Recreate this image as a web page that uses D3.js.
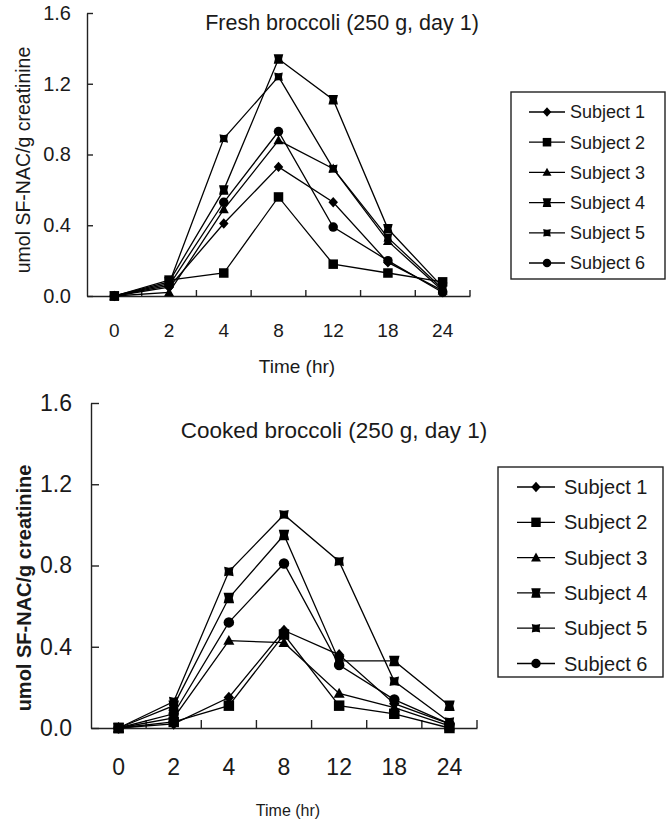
<!DOCTYPE html>
<html>
<head>
<meta charset="utf-8">
<script src="https://cdn.jsdelivr.net/npm/d3@7"></script>
<style>
  body { margin: 0; background: #fff; }
  text { font-family: "Liberation Sans", Arial, sans-serif; fill: #1a1a1a; }
</style>
</head>
<body>
<div class="chart"></div>
<script>
const times = ["0", "2", "4", "8", "12", "18", "24"];
const subjects = ["Subject 1", "Subject 2", "Subject 3", "Subject 4", "Subject 5", "Subject 6"];
const yTicks = [0, 0.4, 0.8, 1.2, 1.6];

// fresh broccoli, umol SF-NAC/g creatinine
const fresh1 = [0.00, 0.05, 0.41, 0.73, 0.53, 0.19, 0.03];
const fresh2 = [0.00, 0.09, 0.13, 0.56, 0.18, 0.13, 0.08];
const fresh3 = [0.00, 0.02, 0.49, 0.88, 0.72, 0.31, 0.03];
const fresh4 = [0.00, 0.08, 0.60, 1.34, 1.11, 0.38, 0.05];
const fresh5 = [0.00, 0.07, 0.89, 1.24, 0.72, 0.33, 0.04];
const fresh6 = [0.00, 0.06, 0.53, 0.93, 0.39, 0.20, 0.02];

// cooked broccoli
const cooked1 = [0.00, 0.02, 0.15, 0.48, 0.36, 0.12, 0.02];
const cooked2 = [0.00, 0.03, 0.11, 0.46, 0.11, 0.07, 0.00];
const cooked3 = [0.00, 0.05, 0.43, 0.42, 0.17, 0.10, 0.01];
const cooked4 = [0.00, 0.11, 0.64, 0.95, 0.33, 0.33, 0.11];
const cooked5 = [0.00, 0.13, 0.77, 1.05, 0.82, 0.23, 0.03];
const cooked6 = [0.00, 0.07, 0.52, 0.81, 0.31, 0.14, 0.02];

const freshSeries = [fresh1, fresh2, fresh3, fresh4, fresh5, fresh6];
const cookedSeries = [cooked1, cooked2, cooked3, cooked4, cooked5, cooked6];

const svg = d3.select(".chart").append("svg")
    .attr("width", 670)
    .attr("height", 822);

// marker shapes: diamond, square, triangle, notched square, pinched square, circle
function marker(i, s) {
    const r = s / 2;
    switch (i) {
        case 0: return `M0,${-r * 1.1}L${r},0L0,${r * 1.1}L${-r},0Z`;
        case 1: return `M${-r},${-r}H${r}V${r}H${-r}Z`;
        case 2: return `M0,${-r * 1.1}L${r * 1.05},${r * 0.8}H${-r * 1.05}Z`;
        case 3: return `M${-r},${-r}H${r}L${r * 0.75},0L${r},${r}H${-r}L${-r * 0.75},0Z`;
        case 4: { const q = r;
            return `M${-q},${-q}Q0,${-q * 0.65} ${q},${-q}Q${q * 0.65},0 ${q},${q}Q0,${q * 0.65} ${-q},${q}Q${-q * 0.65},0 ${-q},${-q}Z`; }
        default: return `M${r},0A${r},${r} 0 1 1 ${-r},0A${r},${r} 0 1 1 ${r},0Z`;
    }
}

function panel(cfg, series) {
    const x = d3.scaleBand()
        .domain(times)
        .range([cfg.left, cfg.right])
        .padding(0);
    const cx = d => x(d) + x.bandwidth() / 2;

    const y = d3.scaleLinear()
        .domain([0, 1.6])
        .range([cfg.bottom, cfg.top]);

    const g = svg.append("g");

    // y axis with inward ticks
    g.append("g")
        .attr("transform", `translate(${cfg.left},0)`)
        .call(d3.axisLeft(y).tickValues(yTicks).tickFormat(d3.format(".1f"))
            .tickSizeInner(-cfg.tick).tickSizeOuter(0).tickPadding(cfg.yPad))
        .call(a => a.selectAll("text")
            .attr("font-size", cfg.yFont)
            .attr("font-family", cfg.font)
            .attr("font-weight", "normal"))
        .call(a => a.selectAll("line,path").attr("stroke", "#222").attr("stroke-width", 1.4));

    // x axis: labels centred on the bands, ticks on band edges
    g.append("g")
        .attr("transform", `translate(0,${cfg.bottom})`)
        .call(d3.axisBottom(x).tickSize(0).tickSizeOuter(0).tickPadding(cfg.xPad))
        .call(a => a.selectAll("text")
            .attr("font-size", cfg.xFont)
            .attr("font-family", cfg.font))
        .call(a => a.select(".domain").attr("stroke", "#222").attr("stroke-width", 1.4));

    g.append("g")
        .selectAll("line")
        .data(times.slice(1).concat(["end"]))
        .join("line")
        .attr("x1", d => d === "end" ? cfg.right : x(d))
        .attr("x2", d => d === "end" ? cfg.right : x(d))
        .attr("y1", cfg.bottom)
        .attr("y2", cfg.bottom - cfg.tick)
        .attr("stroke", "#222")
        .attr("stroke-width", 1.4);

    g.append("text")
        .attr("x", cfg.titleX)
        .attr("y", cfg.titleY)
        .attr("text-anchor", "middle")
        .attr("font-size", cfg.titleFont)
        .text(cfg.title);

    g.append("text")
        .attr("transform", `translate(${cfg.yLabelX},${cfg.yLabelY}) rotate(-90)`)
        .attr("text-anchor", "middle")
        .attr("font-size", cfg.yLabelFont)
        .attr("font-weight", cfg.yLabelWeight)
        .text("umol SF-NAC/g creatinine");

    g.append("text")
        .attr("x", cfg.xLabelX)
        .attr("y", cfg.xLabelY)
        .attr("text-anchor", "middle")
        .attr("font-size", cfg.xLabelFont)
        .text("Time (hr)");

    const line = d3.line()
        .x((d, i) => cx(times[i]))
        .y(d => y(d));

    series.forEach((vals, k) => {
        g.append("path")
            .datum(vals)
            .attr("fill", "none")
            .attr("stroke", "#000")
            .attr("stroke-width", 1.3)
            .attr("d", line);
    });

    series.forEach((vals, k) => {
        g.append("g")
            .selectAll("path")
            .data(vals)
            .join("path")
            .attr("transform", (d, i) => `translate(${cx(times[i])},${y(d)})`)
            .attr("d", marker(k, k === 4 ? cfg.mark * 0.9 : cfg.mark))
            .attr("fill", "#000");
    });

    // legend
    const lg = g.append("g");
    lg.append("rect")
        .attr("x", cfg.legX)
        .attr("y", cfg.legY)
        .attr("width", cfg.legW)
        .attr("height", cfg.legH)
        .attr("fill", "#fff")
        .attr("stroke", "#222")
        .attr("stroke-width", 1.4);

    const item = lg.selectAll("g.item")
        .data(subjects)
        .join("g")
        .attr("class", "item")
        .attr("transform", (d, i) => `translate(${cfg.legX},${cfg.legY + cfg.legFirst + i * cfg.legStep})`);

    item.append("line")
        .attr("x1", cfg.legLine[0])
        .attr("x2", cfg.legLine[1])
        .attr("stroke", "#000")
        .attr("stroke-width", 1.3);

    item.append("path")
        .attr("transform", `translate(${(cfg.legLine[0] + cfg.legLine[1]) / 2},0)`)
        .attr("d", (d, i) => marker(i, i === 4 ? cfg.mark * 0.8 : cfg.mark * 0.9))
        .attr("fill", "#000");

    item.append("text")
        .attr("x", cfg.legText)
        .attr("dy", "0.35em")
        .attr("font-size", cfg.legFont)
        .text(d => d);
}

panel({
    left: 87, right: 470, top: 13, bottom: 296, tick: 6,
    font: "Liberation Sans", yFont: 20, xFont: 19, yPad: 16, xPad: 28,
    title: "Fresh broccoli (250 g, day 1)", titleX: 342, titleY: 30, titleFont: 21.5,
    yLabelX: 30, yLabelY: 160, yLabelFont: 19.5, yLabelWeight: "normal",
    xLabelX: 297, xLabelY: 373, xLabelFont: 19,
    mark: 9.5,
    legX: 511, legY: 92, legW: 154, legH: 187, legFirst: 20, legStep: 30.2,
    legLine: [18, 54], legText: 59, legFont: 18
}, freshSeries);

panel({
    left: 91, right: 477, top: 403, bottom: 728, tick: 8,
    font: "Liberation Sans", yFont: 23, xFont: 23, yPad: 19, xPad: 31,
    title: "Cooked broccoli (250 g, day 1)", titleX: 334, titleY: 438, titleFont: 22.5,
    yLabelX: 31, yLabelY: 588, yLabelFont: 20, yLabelWeight: "bold",
    xLabelX: 288, xLabelY: 816, xLabelFont: 16,
    mark: 10.5,
    legX: 498, legY: 467, legW: 165, legH: 210, legFirst: 20, legStep: 35.3,
    legLine: [19, 57], legText: 66, legFont: 20
}, cookedSeries);
</script>
</body>
</html>
